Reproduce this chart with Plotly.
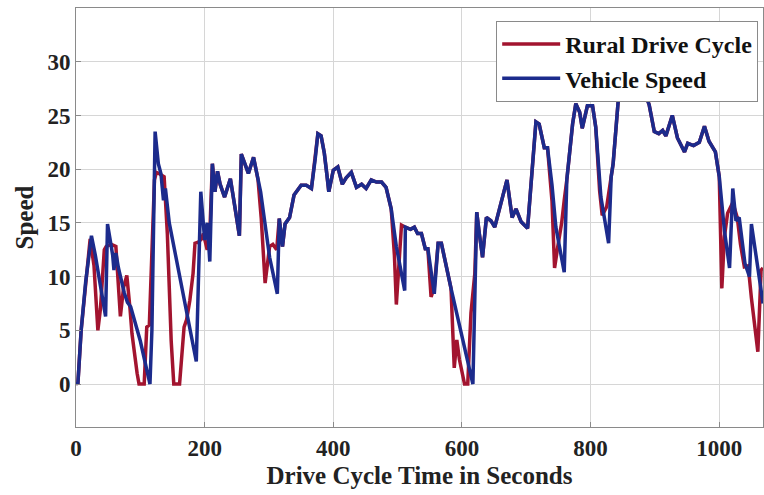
import plotly.graph_objects as go

# Vehicle Speed (blue)
vehicle_time = [0, 3, 8, 15, 24, 30, 46, 49, 54, 57, 59, 62, 66, 72, 75, 80, 85, 100, 115,
                118, 121, 123, 128, 132, 136, 139, 145, 187, 194, 200, 204, 208, 212, 216,
                220, 224, 231, 240, 247, 254, 257, 262, 268, 276, 283, 287, 301, 313, 316,
                321, 325, 332, 339, 350, 358, 366, 372, 376, 381, 386, 390, 393, 400, 407,
                414, 420, 428, 436, 444, 451, 459, 467, 475, 482, 490, 498, 511, 512, 520,
                526, 531, 537, 543, 547, 557, 563, 568, 583, 617, 620, 623, 627, 632, 638,
                645, 651, 658, 670, 678, 684, 692, 702, 715, 720, 728, 733, 740, 746, 759,
                763, 772, 777, 783, 787, 795, 803, 808, 816, 828, 832, 835, 845, 860, 882,
                891, 899, 906, 912, 917, 927, 935, 946, 951, 960, 969, 977, 984, 994, 1000,
                1008, 1016, 1021, 1026, 1031, 1040, 1047, 1050, 1068]
vehicle_speed = [0, 0.1, 5, 9.5, 13.8, 12, 6.3, 14.9, 13.1, 12, 10.6, 12.2, 10.8, 9, 8.5, 7.6,
                 7.2, 4, 0, 5, 20, 23.5, 20.5, 19.6, 17.1, 18.2, 15, 2.1, 17.9, 13.4, 15, 11.4,
                 20.5, 17.9, 19.8, 18.6, 17.4, 19.1, 16.5, 13.8, 21.4, 20.6, 19.6, 21.1, 19,
                 17.9, 11.8, 8.4, 15.4, 12.8, 14.9, 15.5, 17.6, 18.5, 18.5, 18.2, 21, 23.3,
                 23.1, 21.5, 19.5, 17.9, 19.9, 20.2, 18.6, 19.2, 19.7, 18.3, 18.6, 18.2, 19,
                 18.8, 18.8, 18.3, 16.3, 12.8, 8.7, 14.6, 14.4, 14.6, 14.0, 14, 12.6, 12.6,
                 8.4, 13.1, 13.1, 8.9, 0, 10.3, 16, 14, 11.8, 15.5, 15.2, 14.6, 16.2, 19,
                 15.5, 16.3, 15.1, 14.5, 24.4, 24.2, 22, 22, 18.5, 14.6, 10.4, 19, 24.2, 26.1,
                 25.3, 23.8, 25.9, 25.9, 23.9, 17.4, 13.1, 19.3, 20.5, 27.9, 31, 27.5, 26,
                 23.5, 23.3, 23.6, 23.1, 25, 22.9, 21.6, 22.4, 22.2, 22.5, 24, 22.6, 21.6,
                 19.3, 14.3, 10.8, 18.2, 15.2, 15.5, 11.2, 10, 14.9, 7.5]

# Rural Drive Cycle (red)
rural_time = [0, 3, 8, 15, 22, 28, 34, 38, 44, 47, 55, 62, 69, 74, 79, 84, 87, 95, 98, 106,
              110, 114, 118, 122, 125, 129, 137, 142, 148, 152, 161, 165, 168, 172, 177, 182,
              185, 190, 195, 198, 204, 208, 211, 212, 216, 220, 224, 231, 240, 247, 254, 257,
              262, 268, 276, 283, 288, 294, 301, 306, 312, 316, 321, 325, 332, 339, 350, 358,
              366, 372, 376, 381, 386, 390, 393, 400, 407, 414, 420, 428, 436, 444, 451, 459,
              467, 475, 482, 490, 495, 498, 506, 512, 520, 526, 531, 537, 543, 547, 552, 557,
              563, 568, 583, 588, 592, 596, 604, 609, 614, 620, 623, 627, 632, 638, 645, 651,
              658, 670, 678, 684, 692, 702, 715, 720, 728, 733, 740, 744, 749, 755, 759, 763,
              772, 777, 783, 787, 795, 803, 808, 814, 818, 825, 832, 835, 845, 860, 882, 891,
              899, 906, 912, 917, 927, 935, 946, 951, 960, 969, 977, 984, 994, 1000, 1004,
              1008, 1013, 1021, 1028, 1033, 1039, 1045, 1050, 1060, 1065, 1068]
rural_speed = [0, 0.1, 5, 9.5, 13.5, 11, 5.0, 7, 12.5, 12.8, 13, 12.8, 6.3, 9, 10.1, 7, 4.7, 1,
               0, 0, 5.3, 5.5, 12, 19, 19.7, 19.6, 19.3, 14, 4, 0, 0, 3, 5.3, 6, 7.8, 10.3,
               13.1, 13.2, 13.5, 14, 12.5, 14, 17.9, 20.5, 17.9, 19.8, 18.6, 17.4, 19.1, 16.5,
               13.8, 21.4, 20.6, 19.6, 21.1, 19, 15.4, 9.4, 12.8, 13, 12.5, 15.4, 12.8, 14.9,
               15.5, 17.6, 18.5, 18.5, 18.2, 21, 23.3, 23.1, 21.5, 19.5, 17.9, 19.9, 20.2,
               18.6, 19.2, 19.7, 18.3, 18.6, 18.2, 19, 18.8, 18.8, 18.3, 16.3, 12, 7.4, 14.8,
               14.6, 14.4, 14.6, 14.0, 14, 12.6, 12.6, 8.1, 9, 13.1, 13.1, 8.9, 1.5, 4.1, 2.3,
               0, 0, 6.6, 10.3, 16, 14, 11.8, 15.5, 15.2, 14.6, 16.2, 19, 15.5, 16.3, 15.1,
               14.5, 24.4, 24.2, 22, 22, 17, 10.8, 12.8, 15, 17.1, 19, 24.2, 26.1, 25.3, 23.8,
               25.9, 25.9, 23.9, 18, 15.7, 16.5, 19.3, 20.5, 27.9, 31, 27.5, 26, 23.5, 23.3,
               23.6, 23.1, 25, 22.9, 21.6, 22.4, 22.2, 22.5, 24, 22.6, 21.6, 19.3, 8.9, 13.7,
               15.9, 16.9, 15.5, 13, 10.9, 11, 8, 3.0, 10.6, 10.8]

x_ticks = [0, 200, 400, 600, 800, 1000]
y_ticks = [0, 5, 10, 15, 20, 25, 30]

FONT = "Liberation Serif, Times New Roman, serif"
RED = "#A2142F"
BLUE = "#1C2B8C"

fig = go.Figure()
fig.add_trace(go.Scatter(x=rural_time, y=rural_speed, mode="lines", name="Rural Drive Cycle",
                         line=dict(color=RED, width=3.5)))
fig.add_trace(go.Scatter(x=vehicle_time, y=vehicle_speed, mode="lines", name="Vehicle Speed",
                         line=dict(color=BLUE, width=3.5)))

axis_common = dict(showline=True, mirror=True, linecolor="#8a8a8a", linewidth=1,
                   showgrid=True, gridcolor="#d6d6d6", gridwidth=1, zeroline=False,
                   ticks="inside", ticklen=5, tickcolor="#8a8a8a",
                   tickfont=dict(family=FONT, size=23, color="#222222", weight="bold"))

fig.update_xaxes(range=[0, 1068], tickvals=x_ticks, **axis_common,
                 title=dict(text="Drive Cycle Time in Seconds", standoff=6,
                            font=dict(family=FONT, size=25, color="#222222", weight="bold")))
fig.update_yaxes(range=[-4, 35], tickvals=y_ticks, **axis_common,
                 title=dict(text="Speed", standoff=6,
                            font=dict(family=FONT, size=25, color="#222222", weight="bold")))

fig.update_layout(
    width=764, height=495,
    margin=dict(l=76, r=1, t=8, b=68),
    plot_bgcolor="white", paper_bgcolor="white",
    showlegend=True,
    legend=dict(x=0.993, y=0.969, xanchor="right", yanchor="top",
                bgcolor="white", bordercolor="#8a8a8a", borderwidth=1,
                itemwidth=58, tracegroupgap=0,
                font=dict(family=FONT, size=24, color="#111111", weight="bold")),
)

fig.write_html("out.html")
